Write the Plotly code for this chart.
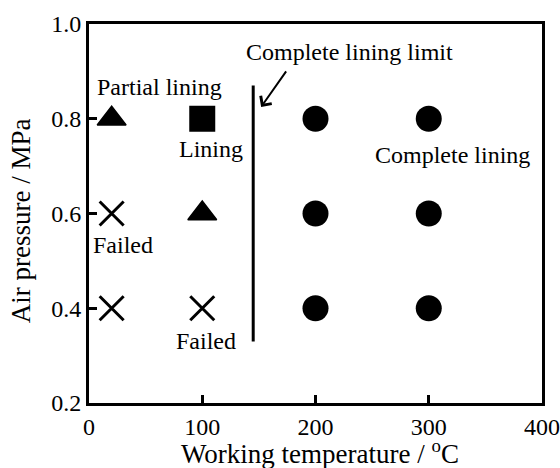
import plotly.graph_objects as go

# Data
partial_x = [20, 100]
partial_y = [0.8, 0.6]
lining_x = [100]
lining_y = [0.8]
failed_x = [20, 20, 100]
failed_y = [0.6, 0.4, 0.4]
complete_x = [200, 200, 200, 300, 300, 300]
complete_y = [0.4, 0.6, 0.8, 0.4, 0.6, 0.8]
limit_x = [145, 145]
limit_y = [0.33, 0.87]

x_ticks = [0, 100, 200, 300, 400]
y_ticks = [0.2, 0.4, 0.6, 0.8, 1.0]

FONT = "Liberation Serif"

fig = go.Figure()
fig.add_trace(go.Scatter(x=limit_x, y=limit_y, mode="lines",
                         line=dict(color="black", width=3), showlegend=False))
fig.add_trace(go.Scatter(x=partial_x, y=partial_y, mode="markers",
                         marker=dict(symbol="triangle-up", size=25, color="black",
                                     line=dict(color="black", width=1.5)),
                         showlegend=False))
fig.add_trace(go.Scatter(x=lining_x, y=lining_y, mode="markers",
                         marker=dict(symbol="square", size=26, color="black"),
                         showlegend=False))
fig.add_trace(go.Scatter(x=failed_x, y=failed_y, mode="markers",
                         marker=dict(symbol="x-thin", size=24, color="black",
                                     line=dict(color="black", width=3)),
                         showlegend=False))
fig.add_trace(go.Scatter(x=complete_x, y=complete_y, mode="markers",
                         marker=dict(symbol="circle", size=26, color="black"),
                         showlegend=False))

ann_font = dict(family=FONT, size=24, color="black")
annotations = [
    dict(x=62, y=0.867, text="Partial lining"),
    dict(x=108, y=0.736, text="Lining"),
    dict(x=230, y=0.941, text="Complete lining limit"),
    dict(x=321, y=0.723, text="Complete lining"),
    dict(x=30, y=0.533, text="Failed"),
    dict(x=103, y=0.331, text="Failed"),
]
for a in annotations:
    fig.add_annotation(x=a["x"], y=a["y"], text=a["text"], showarrow=False,
                       font=ann_font, xref="x", yref="y")

fig.add_annotation(x=152, y=0.825, ax=175, ay=0.903, xref="x", yref="y",
                   axref="x", ayref="y", text="", showarrow=True,
                   arrowhead=4, arrowsize=1.3, arrowwidth=2, arrowcolor="black")

# Axis titles as annotations for precise placement
title_font = dict(family=FONT, size=27, color="black")
fig.add_annotation(x=0.511, y=-0.129, xref="paper", yref="paper",
                   xanchor="center", yanchor="middle", showarrow=False,
                   text="Working temperature / <sup>o</sup>C", font=title_font)
fig.add_annotation(x=-0.150, y=0.480, xref="paper", yref="paper",
                   xanchor="center", yanchor="middle", showarrow=False,
                   textangle=-90, text="Air pressure / MPa", font=title_font)

axis_common = dict(
    showgrid=False, zeroline=False, showline=True, linecolor="black", linewidth=3,
    mirror=True, ticks="inside", ticklen=8, tickwidth=3, tickcolor="black",
    tickfont=dict(family=FONT, size=24, color="black"), automargin=False,
)

fig.update_layout(
    width=560, height=468,
    margin=dict(l=89, r=18, t=24, b=65),
    paper_bgcolor="white", plot_bgcolor="white",
    xaxis=dict(range=[0, 400], tickvals=x_ticks, ticktext=[str(v) for v in x_ticks],
               **axis_common),
    yaxis=dict(range=[0.2, 1.0], tickvals=y_ticks, ticktext=[f"{v:.1f}" for v in y_ticks],
               **axis_common),
)

fig.write_html("out.html", config={"displayModeBar": False},
               post_script="document.body.style.margin='0';")
